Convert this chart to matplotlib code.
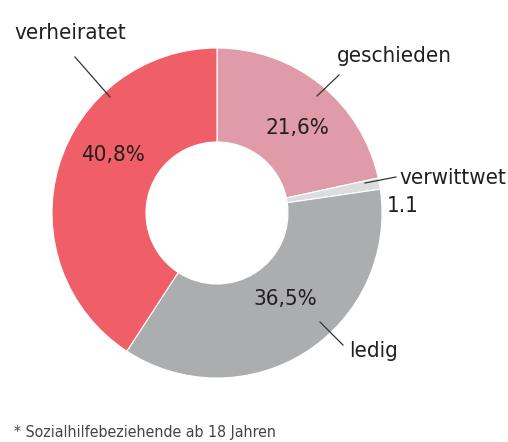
import matplotlib.pyplot as plt
from matplotlib import font_manager

categories = ['geschieden', 'verwittwet', 'ledig', 'verheiratet']
values = [21.6, 1.1, 36.5, 40.8]
value_labels = ['21,6%', '1.1', '36,5%', '40,8%']
colors = ['#df9ca8', '#dcdddf', '#acadaf', '#f05f67']

names = {f.name for f in font_manager.fontManager.ttflist}
font = 'Liberation Sans Narrow' if 'Liberation Sans Narrow' in names else 'DejaVu Sans'
plt.rcParams['font.family'] = [font, 'DejaVu Sans']
stretch = 'condensed'

W, H = 508, 442
fig = plt.figure(figsize=(W / 100, H / 100), dpi=100)
ax = fig.add_axes([0, 0, 1, 1])

cx, cy = 217, H - 213
R = 165
ax.pie(values, colors=colors, startangle=90, counterclock=False,
       center=(cx, cy), radius=R, frame=True,
       wedgeprops=dict(width=R - 71, edgecolor='white', linewidth=0.8))
ax.set_xlim(0, W)
ax.set_ylim(0, H)
ax.set_aspect('equal')
ax.axis('off')

txt = '#231f20'
def y(p):
    return H - p

# name labels: (text x, text y, line start, line end)
name_pos = {
    'verheiratet': (14, 33, (75, 57), (110, 97)),
    'geschieden': (337, 56, (339, 75), (317, 96)),
    'verwittwet': (399, 178, (396, 177), (365, 183)),
    'ledig': (349, 351, (343, 345), (320, 322)),
}
value_pos = {
    '40,8%': (113, 155),
    '21,6%': (297, 128),
    '1.1': (387, 206),
    '36,5%': (285, 299),
}

for cat in categories:
    tx, ty, p0, p1 = name_pos[cat]
    ax.text(tx, y(ty), cat, ha='left', va='center', fontsize=16,
            fontstretch=stretch, color=txt)
    ax.plot([p0[0], p1[0]], [y(p0[1]), y(p1[1])], color='#333333', lw=0.9)

for lab in value_labels:
    vx, vy = value_pos[lab]
    ha = 'left' if lab == '1.1' else 'center'
    ax.text(vx, y(vy), lab, ha=ha, va='center', fontsize=16,
            fontstretch=stretch, color=txt)

ax.text(14, y(433), '* Sozialhilfebeziehende ab 18 Jahren', ha='left', va='center',
        fontsize=11.4, fontstretch=stretch, color='#444444')

fig.savefig('out.png', dpi=100)
